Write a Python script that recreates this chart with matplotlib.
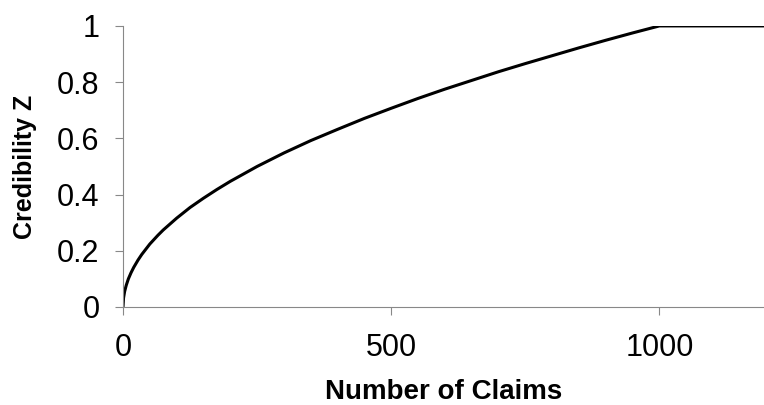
import matplotlib.pyplot as plt

# number of claims vs credibility Z
claims = [0, 1, 3, 6, 10, 15, 20, 28, 35, 50, 65, 75, 100, 125, 150, 175,
          200, 250, 300, 350, 400, 450, 500, 550, 600, 650, 700, 750, 800,
          850, 900, 950, 1000, 1200]
credibility = [0.0, 0.032, 0.055, 0.077, 0.10, 0.122, 0.141, 0.167, 0.187,
               0.224, 0.255, 0.274, 0.316, 0.354, 0.387, 0.418, 0.447, 0.50,
               0.548, 0.592, 0.632, 0.671, 0.707, 0.742, 0.775, 0.806, 0.837,
               0.866, 0.894, 0.922, 0.949, 0.975, 1.0, 1.0]
x_ticks = [0, 500, 1000]
y_ticks = [0, 0.2, 0.4, 0.6, 0.8, 1]
y_labels = ['0', '0.2', '0.4', '0.6', '0.8', '1']

plt.rcParams['font.family'] = ['Liberation Sans', 'DejaVu Sans']

fig = plt.figure(figsize=(7.64, 4.05), dpi=100)
ax = fig.add_axes([0.161, 0.242, 0.839, 0.694])

ax.plot(claims, credibility, color='black', linewidth=2.2, solid_capstyle='butt')

ax.set_xlim(0, 1195)
ax.set_ylim(0, 1)
ax.set_xticks(x_ticks)
ax.set_yticks(y_ticks)
ax.set_yticklabels(y_labels)

for side in ['top', 'right']:
    ax.spines[side].set_visible(False)
for side in ['left', 'bottom']:
    ax.spines[side].set_color('#888888')
    ax.spines[side].set_linewidth(0.8)

ax.tick_params(axis='both', direction='out', length=6, width=0.8,
               color='#888888', labelsize=22)
ax.tick_params(axis='y', pad=11)
ax.tick_params(axis='x', pad=13)

ax.set_xlabel('Number of Claims', fontsize=20, fontweight='bold', labelpad=11)
ax.set_ylabel('Credibility Z', fontsize=18, fontweight='bold', labelpad=14)

fig.savefig('out.png', dpi=100)
